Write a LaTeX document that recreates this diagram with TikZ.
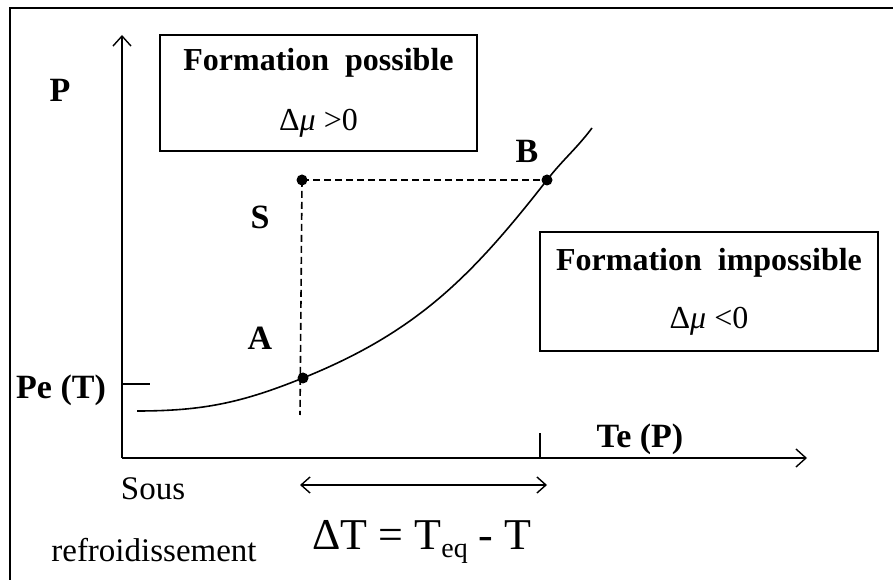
\documentclass[tikz,border=0pt]{standalone}
\usepackage{fontspec}
\setmainfont{Liberation Serif}
\usetikzlibrary{arrows.meta,positioning}

\begin{document}
\begin{tikzpicture}[
  x=1pt, y=1pt,
  axis/.style={line width=2pt, -{Straight Barb[length=10pt,width=18pt,line width=1.4pt]}},
  region/.style={draw, line width=2pt, align=center, inner sep=0pt, font=\fontsize{32}{36}\selectfont},
  lbl/.style={font=\bfseries\fontsize{34}{38}\selectfont, inner sep=0pt},
  txt/.style={font=\fontsize{33}{36}\selectfont, inner sep=0pt},
  dot/.style={circle, fill, inner sep=0pt, minimum size=11pt},
  guide/.style={line width=1.6pt, dash pattern=on 7pt off 4pt},
  curve/.style={line width=1.6pt},
  span/.style={line width=1.4pt, {Straight Barb[length=9pt,width=16pt]}-{Straight Barb[length=9pt,width=16pt]}}
]
  \useasboundingbox (0,0) rectangle (893,580);
  \draw[line width=2.4pt] (10,0) -- (10,572) -- (893,572);

  \coordinate (O) at (122,122);
  \coordinate (ytop) at (122,545);
  \coordinate (xend) at (807,122);
  \draw[axis] (O) -- (ytop);
  \draw[axis] (O) -- (xend);

  \node[lbl] (P) at (60,490) {P};
  \node[lbl] (te) at (640,141) {Te (P)};
  \node[lbl] (pe) at (61,190) {Pe (T)};

  \coordinate (pe0) at (122,196);
  \coordinate (pe1) at (150,196);
  \draw[line width=1.6pt] (pe0) -- (pe1);
  \coordinate (te0) at (540,122);
  \coordinate (te1) at (540,147);
  \draw[line width=1.4pt] (te0) -- (te1);

  \node[region, minimum width=317pt, minimum height=116pt] (poss) at (318.5,487)
    {\bfseries Formation\ \ possible\\[24pt] Δ\textit{μ} >0};
  \node[region, minimum width=338pt, minimum height=119pt] (imposs) at (709,288.5)
    {\bfseries Formation\ \ impossible\\[22pt] Δ\textit{μ} <0};

  \coordinate (c0) at (137,169);
  \coordinate (c1) at (592,452);
  \node[dot] (A) at (303,202) {};
  \node[dot] (S) at (302,400) {};
  \node[dot] (B) at (547,400) {};
  \coordinate (Sbot) at (300,165);

  \draw[curve] (c0) to[out=0,in=202] (A.center) to[out=22,in=232] (B.center) to[out=52,in=233] (c1);
  \draw[guide] (S.center) -- (Sbot);
  \draw[guide] (S.center) -- (B.center);

  \node[lbl] (Slbl) at (260,363) {S};
  \node[lbl] (Albl) at (260,242) {A};
  \node[lbl] (Blbl) at (527,429) {B};

  \coordinate (d0) at (300,95);
  \coordinate (d1) at (547,95);
  \draw[span] (d0) -- (d1);

  \node[txt] (sous) at (153,91) {Sous};
  \node[txt] (refr) at (154,30) {refroidissement};
  \node[txt, font=\fontsize{44}{48}\selectfont] (dT) at (422,38) {ΔT =\ T\raisebox{-8pt}{\fontsize{28}{30}\selectfont eq} - T};
\end{tikzpicture}
\end{document}
